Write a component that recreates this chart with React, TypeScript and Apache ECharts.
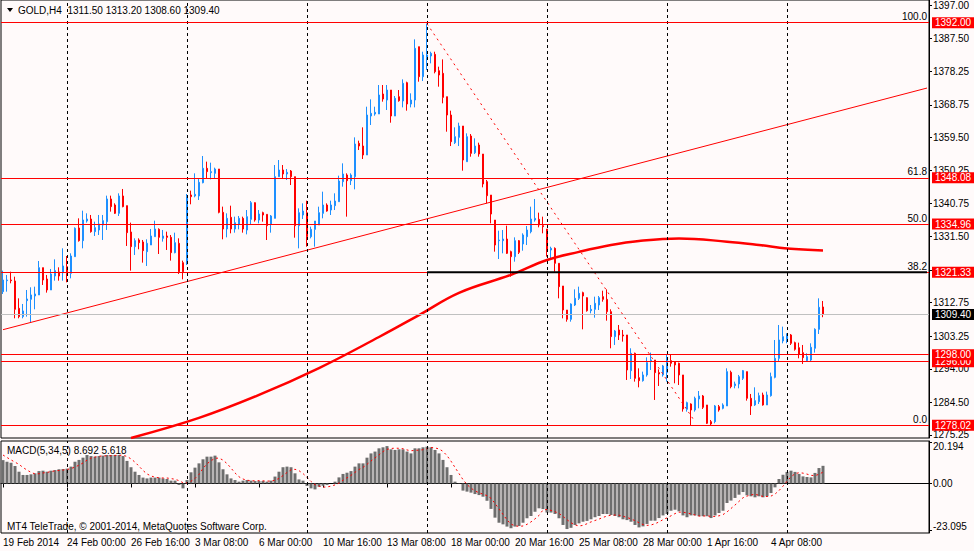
import React, { useEffect, useRef } from "react";
import * as echarts from "echarts";

const FONT = "'Liberation Sans', 'DejaVu Sans', sans-serif";
const FS = 10;
const SLOTS = 232;
const symbolName = "GOLD,H4";
const macdName = "MACD(5,34,5)";
const copyright = "MT4 TeleTrade, \u00a9 2001-2014, MetaQuotes Software Corp.";

const tickLabels = [
  "19 Feb 2014", "24 Feb 00:00", "26 Feb 16:00", "3 Mar 08:00", "6 Mar 00:00",
  "10 Mar 16:00", "13 Mar 08:00", "18 Mar 00:00", "20 Mar 16:00", "25 Mar 08:00",
  "28 Mar 00:00", "1 Apr 16:00", "4 Apr 08:00",
];
const TICK_STEP = 16;
const gridBars = [16, 46, 76, 106, 136, 166, 196];
const priceTicks = [1397.0, 1387.5, 1378.25, 1368.75, 1359.5, 1350.25, 1340.75, 1331.5, 1322.0, 1312.75, 1303.25, 1294.0, 1284.5, 1275.25];
const priceLabels = [1397.0, 1387.5, 1378.25, 1368.75, 1359.5, 1350.25, 1340.75, 1331.5, 1312.75, 1303.25, 1294.0, 1284.5, 1275.25];
const macdTicks = [20.194, 0, -23.095];

// [open, high, low, close]
const candles = [
  [1315.84, 1321.78, 1315.18, 1319.14], [1318.95, 1320.56, 1315.84, 1319.14], [1319.14, 1321.5, 1318.2, 1318.95], [1318.86, 1320.08, 1308.29, 1310.84],
  [1311.12, 1313.95, 1308.29, 1308.77], [1308.77, 1312.35, 1308.29, 1310.37], [1313.29, 1316.31, 1308.77, 1313.76], [1313.67, 1317.07, 1307.06, 1314.9],
  [1314.61, 1317.25, 1310.84, 1315.18], [1314.9, 1324.52, 1314.9, 1322.63], [1322.63, 1322.63, 1317.73, 1319.14], [1319.42, 1320.56, 1315.56, 1316.31],
  [1316.31, 1322.26, 1316.31, 1320.84], [1320.27, 1324.99, 1318.95, 1321.78], [1321.41, 1322.73, 1318.95, 1320.27], [1321.22, 1328.11, 1318.95, 1323.11],
  [1322.92, 1325.93, 1318.48, 1321.03], [1321.03, 1326.69, 1319.61, 1325.93], [1325.75, 1334.05, 1325.75, 1333.77], [1333.87, 1336.6, 1330.0, 1330.28],
  [1330.28, 1338.77, 1328.11, 1336.13], [1335.85, 1338.02, 1335.38, 1336.41], [1336.41, 1337.55, 1332.54, 1332.83], [1332.83, 1335.66, 1331.6, 1333.96],
  [1333.3, 1337.55, 1331.88, 1335.0], [1334.71, 1337.55, 1330.47, 1335.94], [1335.66, 1343.02, 1333.3, 1342.08], [1342.08, 1343.02, 1338.49, 1339.91],
  [1340.38, 1340.85, 1337.83, 1338.02], [1338.02, 1343.68, 1337.26, 1342.93], [1342.93, 1344.91, 1339.72, 1339.91], [1340.19, 1340.19, 1328.77, 1332.54],
  [1332.73, 1335.38, 1321.78, 1328.58], [1328.58, 1330.94, 1326.22, 1330.28], [1330.47, 1330.94, 1327.83, 1329.71], [1329.9, 1330.47, 1324.05, 1327.45],
  [1327.16, 1330.66, 1323.11, 1329.52], [1329.05, 1333.58, 1329.05, 1331.6], [1331.41, 1335.94, 1331.41, 1333.58], [1333.49, 1333.77, 1326.5, 1331.22],
  [1330.94, 1333.3, 1330.0, 1331.6], [1331.6, 1332.83, 1327.64, 1331.22], [1331.22, 1331.88, 1324.62, 1326.88], [1326.88, 1332.54, 1326.69, 1329.71],
  [1329.52, 1330.94, 1320.84, 1321.5], [1324.05, 1324.62, 1319.33, 1321.5], [1323.67, 1343.49, 1323.39, 1342.74], [1343.21, 1344.44, 1340.57, 1342.74],
  [1342.93, 1349.34, 1342.55, 1343.4], [1342.93, 1347.93, 1341.79, 1346.8], [1346.7, 1354.25, 1346.51, 1350.76], [1350.76, 1352.65, 1347.93, 1349.82],
  [1349.53, 1352.36, 1347.64, 1349.82], [1349.34, 1350.95, 1347.93, 1350.57], [1350.57, 1350.57, 1338.02, 1338.3], [1338.3, 1339.91, 1330.66, 1333.58],
  [1333.58, 1338.02, 1331.22, 1336.6], [1336.88, 1340.18, 1332.35, 1333.57], [1333.57, 1337.07, 1332.54, 1335.37], [1334.9, 1337.26, 1333.48, 1336.6],
  [1336.6, 1337.07, 1332.54, 1333.57], [1333.29, 1338.95, 1332.06, 1337.07], [1336.31, 1341.5, 1334.9, 1341.03], [1341.03, 1341.13, 1335.65, 1336.12],
  [1336.12, 1338.95, 1335.18, 1337.82], [1338.2, 1338.48, 1335.65, 1337.54], [1337.73, 1337.73, 1330.46, 1334.52], [1334.9, 1337.54, 1332.54, 1337.26],
  [1336.6, 1351.7, 1336.6, 1348.39], [1348.39, 1353.11, 1348.39, 1350.28], [1350.28, 1351.7, 1347.73, 1349.15], [1349.15, 1350.56, 1347.45, 1349.62],
  [1350.0, 1350.28, 1346.03, 1348.39], [1348.39, 1348.39, 1331.12, 1334.52], [1334.52, 1339.43, 1328.1, 1338.2], [1337.54, 1340.84, 1336.41, 1338.67],
  [1338.2, 1341.6, 1328.57, 1331.4], [1331.4, 1334.24, 1330.93, 1333.48], [1333.48, 1335.84, 1328.57, 1335.84], [1334.71, 1339.9, 1334.71, 1338.2],
  [1338.01, 1344.15, 1336.6, 1340.37], [1340.37, 1340.84, 1338.48, 1338.67], [1338.95, 1341.6, 1337.54, 1340.37], [1340.18, 1343.68, 1338.95, 1341.5],
  [1341.31, 1348.68, 1341.31, 1347.17], [1346.98, 1352.17, 1345.56, 1349.15], [1348.87, 1349.34, 1337.07, 1347.26], [1347.26, 1349.34, 1346.03, 1348.87],
  [1348.39, 1359.53, 1344.81, 1357.64], [1357.83, 1358.59, 1355.94, 1357.08], [1357.08, 1362.36, 1353.4, 1354.53], [1354.53, 1368.21, 1354.53, 1365.85],
  [1365.57, 1370.29, 1363.02, 1366.33], [1366.14, 1368.21, 1365.66, 1366.61], [1366.14, 1374.35, 1366.14, 1371.52], [1371.8, 1374.35, 1369.63, 1370.38],
  [1370.1, 1374.35, 1367.27, 1372.93], [1372.93, 1372.93, 1363.68, 1365.57], [1365.57, 1371.23, 1365.57, 1370.57], [1371.04, 1372.93, 1369.63, 1369.91],
  [1369.82, 1375.95, 1368.02, 1374.82], [1375.01, 1375.29, 1367.08, 1368.97], [1368.97, 1371.99, 1368.02, 1370.1], [1370.1, 1387.28, 1368.02, 1384.73],
  [1385.2, 1385.2, 1375.29, 1376.71], [1376.71, 1383.78, 1375.48, 1382.84], [1382.18, 1391.7, 1378.59, 1382.84], [1382.56, 1383.78, 1380.48, 1383.31],
  [1383.03, 1383.78, 1377.65, 1378.12], [1378.4, 1379.54, 1373.87, 1377.18], [1377.65, 1381.61, 1369.16, 1370.85], [1371.04, 1371.04, 1361.13, 1365.85],
  [1365.85, 1367.08, 1357.07, 1358.3], [1358.02, 1362.36, 1357.64, 1359.72], [1359.53, 1363.68, 1357.07, 1362.74], [1362.74, 1362.74, 1350.09, 1353.11],
  [1352.64, 1360.66, 1352.64, 1359.72], [1359.91, 1360.47, 1354.05, 1355.0], [1355.19, 1359.25, 1354.81, 1357.07], [1357.36, 1358.02, 1354.05, 1354.81],
  [1354.81, 1354.81, 1345.37, 1346.32], [1346.98, 1347.45, 1340.84, 1343.01], [1343.2, 1343.2, 1335.18, 1337.82], [1336.12, 1336.12, 1327.16, 1329.04],
  [1330.27, 1333.1, 1325.08, 1330.46], [1330.27, 1333.29, 1326.69, 1330.74], [1330.74, 1334.52, 1326.5, 1326.69], [1327.16, 1327.44, 1320.08, 1325.74],
  [1325.74, 1331.22, 1324.33, 1330.27], [1330.27, 1330.46, 1326.5, 1326.97], [1329.33, 1332.35, 1327.44, 1331.88], [1331.4, 1334.42, 1329.04, 1333.29],
  [1332.82, 1339.9, 1332.35, 1336.41], [1336.12, 1342.07, 1335.65, 1336.59], [1336.31, 1338.2, 1334.05, 1334.71], [1334.52, 1337.07, 1332.35, 1334.24],
  [1333.57, 1333.57, 1325.74, 1327.63], [1327.63, 1328.57, 1324.8, 1328.1], [1328.1, 1328.38, 1321.49, 1323.86], [1323.86, 1323.86, 1313.94, 1317.25],
  [1317.44, 1317.44, 1308.28, 1310.64], [1310.64, 1310.64, 1307.34, 1308.0], [1308.0, 1312.53, 1307.34, 1312.34], [1312.06, 1316.49, 1311.77, 1313.94],
  [1313.94, 1317.25, 1313.47, 1315.36], [1315.55, 1315.83, 1305.17, 1314.61], [1314.13, 1314.23, 1310.17, 1310.45], [1310.45, 1312.06, 1309.7, 1310.83],
  [1310.83, 1314.42, 1308.47, 1312.53], [1312.06, 1314.61, 1310.64, 1314.13], [1314.42, 1316.11, 1313.0, 1313.66], [1313.66, 1316.49, 1307.62, 1310.17],
  [1310.18, 1310.84, 1299.8, 1303.1], [1303.1, 1304.99, 1300.74, 1304.7], [1304.99, 1306.4, 1302.15, 1303.57], [1303.57, 1304.99, 1301.68, 1303.29],
  [1303.57, 1303.57, 1290.83, 1293.66], [1293.47, 1299.8, 1291.11, 1298.38], [1298.38, 1298.57, 1290.36, 1291.3], [1291.49, 1294.13, 1288.75, 1290.64],
  [1290.64, 1293.19, 1290.36, 1292.25], [1292.25, 1297.25, 1291.77, 1295.74], [1296.21, 1298.57, 1293.66, 1296.49], [1296.49, 1296.49, 1285.17, 1292.91],
  [1292.91, 1293.85, 1289.13, 1292.53], [1292.25, 1295.08, 1291.77, 1294.79], [1292.91, 1298.19, 1290.36, 1296.78], [1296.3, 1297.91, 1294.6, 1295.55],
  [1296.02, 1296.02, 1289.89, 1295.08], [1295.55, 1295.74, 1289.41, 1292.25], [1292.25, 1292.25, 1281.86, 1282.62], [1282.52, 1284.69, 1281.86, 1284.41],
  [1284.03, 1284.22, 1277.9, 1282.33], [1282.33, 1286.11, 1281.86, 1285.64], [1285.45, 1287.71, 1282.81, 1286.3], [1286.3, 1286.58, 1282.62, 1283.09],
  [1283.75, 1283.75, 1278.37, 1278.56], [1279.03, 1279.5, 1277.95, 1278.37], [1279.03, 1283.75, 1278.56, 1283.47], [1283.28, 1283.75, 1281.86, 1282.33],
  [1282.81, 1284.22, 1282.52, 1283.75], [1283.47, 1294.13, 1283.47, 1293.19], [1293.0, 1293.47, 1288.47, 1288.94], [1289.23, 1290.36, 1288.47, 1289.7],
  [1289.7, 1292.25, 1288.47, 1291.77], [1291.3, 1293.66, 1290.83, 1293.47], [1293.19, 1293.19, 1284.98, 1285.64], [1285.64, 1286.87, 1280.92, 1283.47],
  [1283.75, 1288.75, 1283.47, 1284.98], [1284.69, 1287.24, 1284.03, 1286.39], [1286.58, 1287.24, 1283.56, 1283.75], [1283.75, 1287.53, 1283.75, 1286.58],
  [1286.39, 1292.91, 1286.11, 1291.77], [1291.58, 1302.15, 1291.3, 1296.96], [1296.96, 1306.4, 1296.02, 1302.15], [1301.87, 1305.93, 1301.21, 1303.1],
  [1302.34, 1304.04, 1301.21, 1303.57], [1303.57, 1303.85, 1300.74, 1301.21], [1301.4, 1301.68, 1299.14, 1299.51], [1299.98, 1301.4, 1296.96, 1298.19],
  [1298.57, 1300.74, 1295.36, 1297.15], [1296.3, 1298.38, 1296.02, 1297.44], [1296.49, 1301.21, 1296.02, 1300.08], [1299.8, 1305.46, 1298.57, 1305.17],
  [1305.17, 1313.95, 1303.85, 1311.4], [1311.5, 1313.2, 1308.6, 1309.4],
];

const macd = [
  11.5, 10.7, 10.2, 8.6, 5.8, 4.2, 4.2, 4.5, 5.0, 6.1,
  6.3, 5.8, 6.3, 6.6, 7.0, 7.1, 7.3, 8.3, 10.7, 11.6,
  12.7, 14.0, 13.5, 13.2, 13.5, 13.7, 14.0, 14.0, 14.0, 14.0,
  13.5, 11.1, 8.0, 5.8, 4.2, 2.9, 2.5, 2.9, 2.9, 2.9,
  2.5, 2.2, 1.4, 1.4, -0.7, -2.4, 1.7, 5.5, 7.8, 9.9,
  11.9, 13.2, 13.2, 13.7, 10.4, 7.0, 4.5, 2.5, 1.7, 0.9,
  1.4, 1.7, 1.4, 1.2, 1.2, 1.2, 0.9, 1.4, 3.4, 5.8,
  8.0, 8.3, 8.0, 5.0, 2.0, 1.4, -1.2, -2.4, -2.9, -1.6,
  -1.1, -0.7, 0.0, 0.9, 3.0, 4.7, 5.3, 6.1, 8.3, 9.9,
  9.9, 12.7, 14.8, 15.7, 17.3, 17.8, 18.4, 16.8, 16.5, 16.8,
  16.8, 15.7, 14.8, 17.3, 17.3, 17.8, 18.1, 17.8, 16.5, 14.8,
  11.6, 8.0, 4.2, 0.9, -0.2, -3.5, -4.0, -4.5, -5.2, -5.7,
  -6.5, -8.5, -12.5, -16.8, -19.3, -20.1, -21.2, -22.0, -21.2, -20.9,
  -19.3, -17.1, -16.0, -13.9, -12.2, -12.6, -14.3, -14.3, -15.0, -17.1,
  -20.4, -22.4, -21.8, -20.4, -19.6, -18.8, -18.4, -17.6, -16.6, -16.0,
  -15.0, -15.0, -15.5, -16.0, -16.6, -17.6, -18.0, -18.8, -20.4, -21.6,
  -21.1, -19.9, -18.3, -18.3, -17.0, -15.7, -15.0, -13.4, -12.9, -13.7,
  -15.7, -16.6, -15.7, -15.7, -16.1, -16.1, -16.1, -17.0, -15.7, -14.5,
  -13.4, -9.6, -8.4, -7.1, -5.5, -4.2, -5.8, -6.3, -6.8, -6.3,
  -6.8, -6.3, -4.7, -1.9, 2.2, 4.3, 5.7, 6.3, 5.7, 4.7,
  3.5, 3.2, 3.0, 5.2, 7.6, 8.692,
];

const signal = [
  14.0, 12.8, 11.6, 10.5, 9.4, 7.9, 6.6, 5.5, 4.7, 4.8,
  5.2, 5.4, 5.9, 6.2, 6.4, 6.6, 6.9, 7.3, 8.1, 9.0,
  10.1, 11.5, 12.5, 13.0, 13.4, 13.6, 13.6, 13.7, 13.8, 13.9,
  13.9, 13.3, 12.1, 10.5, 8.5, 6.4, 4.7, 3.7, 3.1, 2.8,
  2.7, 2.7, 2.4, 2.1, 1.4, 0.4, 0.3, 1.1, 2.5, 4.5,
  7.4, 9.7, 11.2, 12.4, 12.5, 11.5, 9.8, 7.6, 5.2, 3.3,
  2.2, 1.6, 1.4, 1.3, 1.4, 1.3, 1.2, 1.2, 1.6, 2.5,
  3.9, 5.4, 6.7, 7.0, 6.3, 4.9, 3.0, 1.0, -0.6, -1.3,
  -1.8, -1.7, -1.3, -0.7, 0.2, 1.6, 2.8, 4.0, 5.5, 6.9,
  7.9, 9.4, 11.1, 12.6, 14.1, 15.7, 16.8, 17.2, 17.4, 17.3,
  17.1, 16.5, 16.1, 16.3, 16.4, 16.6, 17.1, 17.7, 17.5, 17.0,
  15.8, 13.7, 11.0, 7.9, 4.9, 1.9, -0.5, -2.3, -3.6, -4.6,
  -5.2, -6.0, -7.3, -9.8, -12.5, -15.2, -17.9, -20.0, -20.8, -21.1,
  -20.9, -20.1, -18.9, -17.4, -15.7, -13.0, -12.8, -13.2, -13.9, -14.7,
  -16.2, -17.8, -19.3, -20.4, -20.9, -20.6, -19.8, -18.9, -18.2, -17.5,
  -16.7, -16.0, -15.6, -15.5, -15.6, -16.1, -16.7, -17.4, -18.3, -19.3,
  -20.2, -20.6, -20.4, -19.8, -18.9, -17.8, -16.9, -15.9, -14.8, -14.1,
  -14.1, -14.5, -14.9, -15.5, -16.0, -16.0, -15.9, -16.2, -16.2, -15.9,
  -15.3, -14.0, -12.3, -10.6, -8.8, -7.0, -6.2, -5.6, -5.3, -5.8,
  -6.4, -6.4, -6.2, -5.2, -3.5, -1.3, 1.1, 3.3, 4.8, 5.3,
  5.1, 4.6, 4.0, 3.9, 4.5, 5.618,
];

// moving average read at a few bars: [bar, price]
const maPoints = [
  [32, 1274.4], [49, 1280.1], [64, 1286.6], [79, 1294.2], [94, 1303.0], [104, 1309.2],
  [114, 1315.5], [127, 1320.6], [136, 1324.8], [144, 1327.1], [152, 1329.05], [159, 1330.2],
  [169, 1330.9], [181, 1330.0], [189, 1329.05], [196, 1328.05], [205, 1327.5],
];
const trendLine = [[0, 1305.07], [231, 1373.49]];
const fibDiagonal = [[106, 1391.7], [173, 1279.0]];
const blackLevel = [[106, 1321.33], [231, 1321.33]];
const fibPrices = [1392.0, 1348.08, 1334.96, 1321.33, 1278.02];
const fibNames = ["100.0", "61.8", "50.0", "38.2", "0.0"];
const extraLevels = [1296.0, 1298.0];
const bidPrice = 1309.4;

export default function App() {
  const ref = useRef<HTMLDivElement>(null);
  useEffect(() => {
    if (!ref.current) return;
    const chart = echarts.init(ref.current, undefined, { renderer: "svg" });
    const cats = Array.from({ length: SLOTS }, (_, i) => String(i));
    const last = candles[candles.length - 1];
    const header = `${symbolName}  ${last.map((v) => v.toFixed(2)).join(" ")}`;
    const macdText = `${macdName} ${macd[macd.length - 1]} ${signal[signal.length - 1]}`;
    const showTick = (i: number) => i % TICK_STEP === 0 && i / TICK_STEP < tickLabels.length;

    const tag = (p: number, bg: string) => ({
      yAxis: p,
      lineStyle: { color: "rgba(0,0,0,0)", width: 1, type: "solid" },
      label: {
        show: true, position: "end", distance: 3, formatter: p.toFixed(2),
        backgroundColor: bg, color: "#ffffff", padding: [1, 3, 0, 3], fontSize: FS, fontFamily: FONT,
        opacity: 1,
      },
    });
    const levelLine = (p: number, color: string, text?: string) => ({
      yAxis: p,
      lineStyle: { color, width: 1, type: "solid" },
      label: text
        ? { show: true, position: "insideEndTop", distance: [2, 1], formatter: text, color: "#000", fontSize: FS, fontFamily: FONT }
        : { show: false },
    });

    const levelData: any[] = [];
    fibPrices.forEach((p, k) => levelData.push(levelLine(p, "#ff0000", fibNames[k])));
    extraLevels.forEach((p) => levelData.push(levelLine(p, "#ff0000")));
    levelData.push(levelLine(bidPrice, "#c0c0c0"));
    const tagData: any[] = [];
    fibPrices.forEach((p) => tagData.push(tag(p, "#ff0000")));
    extraLevels.forEach((p) => tagData.push(tag(p, "#ff0000")));
    tagData.push(tag(bidPrice, "#000000"));

    const vGrid = (xi: number, yi: number) => ({
      type: "line", xAxisIndex: xi, yAxisIndex: yi, data: cats.map(() => null), z: 1, silent: true,
      markLine: {
        silent: true, symbol: ["none", "none"], label: { show: false },
        lineStyle: { color: "#000", width: 1, type: [3, 3] },
        data: gridBars.map((b) => ({ xAxis: String(b) })),
      },
    });

    const option: any = {
      animation: false,
      backgroundColor: "#fffafa",
      textStyle: { fontFamily: FONT, fontSize: FS, color: "#000" },
      grid: [
        { left: 1, top: 0, width: 928, height: 438, show: true, borderColor: "#000", borderWidth: 1 },
        { left: 1, top: 441, width: 928, height: 92, show: true, borderColor: "#000", borderWidth: 1 },
      ],
      xAxis: [
        {
          type: "category", gridIndex: 0, data: cats, boundaryGap: true,
          axisLine: { show: false }, axisTick: { show: false }, axisLabel: { show: false }, splitLine: { show: false },
        },
        {
          type: "category", gridIndex: 1, data: cats, boundaryGap: true,
          axisLine: { show: true, lineStyle: { color: "#000" } },
          axisTick: { show: true, alignWithLabel: true, interval: (i: number) => showTick(i), length: 4, lineStyle: { color: "#000" } },
          axisLabel: {
            interval: (i: number) => showTick(i),
            formatter: (_v: string, i: number) => tickLabels[i / TICK_STEP] ?? "",
            align: "left", margin: 4, color: "#000", fontSize: FS, fontFamily: FONT,
          },
          splitLine: { show: false },
        },
      ],
      yAxis: [
        {
          type: "value", gridIndex: 0, position: "right", min: 1274.4, max: 1398.42, scale: true,
          axisLine: { show: true, lineStyle: { color: "#000" } },
          axisTick: { show: true, customValues: priceTicks, length: 3, lineStyle: { color: "#000" } },
          axisLabel: { customValues: priceLabels, formatter: (v: number) => v.toFixed(2), margin: 4, color: "#000", fontSize: FS, fontFamily: FONT },
          splitLine: { show: false },
        },
        {
          type: "value", gridIndex: 1, position: "right", min: -24.35, max: 20.9,
          axisLine: { show: true, lineStyle: { color: "#000" } },
          axisTick: { show: true, customValues: macdTicks, length: 3, lineStyle: { color: "#000" } },
          axisLabel: {
            customValues: macdTicks,
            formatter: (v: number) => (v === 0 ? "0.00" : v > 0 ? `{t|${v}}` : `{b|${v}}`),
            rich: { t: { padding: [9, 0, 0, 0], fontSize: FS, fontFamily: FONT }, b: { padding: [0, 0, 8, 0], fontSize: FS, fontFamily: FONT } },
            margin: 4, color: "#000", fontSize: FS, fontFamily: FONT,
          },
          splitLine: { show: false },
        },
      ],
      graphic: [
        { type: "polygon", shape: { points: [[7, 8], [13, 8], [10, 12]] }, style: { fill: "#000" } },
        { type: "text", x: 18, y: 10, style: { text: header, fontSize: FS, fontFamily: FONT, fill: "#000", verticalAlign: "middle" } },
        { type: "text", x: 7, y: 450, style: { text: macdText, fontSize: FS, fontFamily: FONT, fill: "#000", verticalAlign: "middle" } },
        { type: "text", x: 7, y: 526, style: { text: copyright, fontSize: FS, fontFamily: FONT, fill: "#000", verticalAlign: "middle" } },
      ],
      series: [
        vGrid(0, 0),
        vGrid(1, 1),
        {
          type: "candlestick", xAxisIndex: 0, yAxisIndex: 0, z: 2, barWidth: 2,
          data: candles.map(([o, h, l, c]) => [o, c, l, h]),
          itemStyle: { color: "#1e90ff", color0: "#ff0000", borderColor: "#1e90ff", borderColor0: "#ff0000", borderWidth: 1 },
        },
        {
          type: "line", xAxisIndex: 0, yAxisIndex: 0, z: 3, data: maPoints, smooth: 0.4, symbol: "none",
          lineStyle: { color: "#ff0000", width: 2.5 },
        },
        {
          type: "line", xAxisIndex: 0, yAxisIndex: 0, z: 4, data: trendLine, symbol: "none",
          lineStyle: { color: "#ff0000", width: 1 },
        },
        {
          type: "line", xAxisIndex: 0, yAxisIndex: 0, z: 4, data: fibDiagonal, symbol: "none",
          lineStyle: { color: "#ff0000", width: 1, type: [2, 4] },
        },
        {
          type: "line", xAxisIndex: 0, yAxisIndex: 0, z: 6, data: blackLevel, symbol: "none",
          lineStyle: { color: "#000", width: 2 },
        },
        {
          type: "line", xAxisIndex: 0, yAxisIndex: 0, z: 5, data: cats.map(() => null), silent: true,
          markLine: { silent: true, symbol: ["none", "none"], data: levelData },
        },
        {
          type: "line", xAxisIndex: 0, yAxisIndex: 0, z: 7, data: cats.map(() => null), silent: true,
          markLine: { silent: true, symbol: ["none", "none"], data: tagData },
        },
        {
          type: "bar", xAxisIndex: 1, yAxisIndex: 1, z: 2, data: macd, barWidth: 3,
          itemStyle: { color: "#6e6e6e" },
        },
        {
          type: "line", xAxisIndex: 1, yAxisIndex: 1, z: 3, data: signal, symbol: "none",
          lineStyle: { color: "#ff0000", width: 1, type: [2, 3] },
        },
      ],
    };
    chart.setOption(option);
    return () => chart.dispose();
  }, []);
  return <div ref={ref} style={{ position: "absolute", left: 0, top: 0, width: 974, height: 551 }} />;
}
